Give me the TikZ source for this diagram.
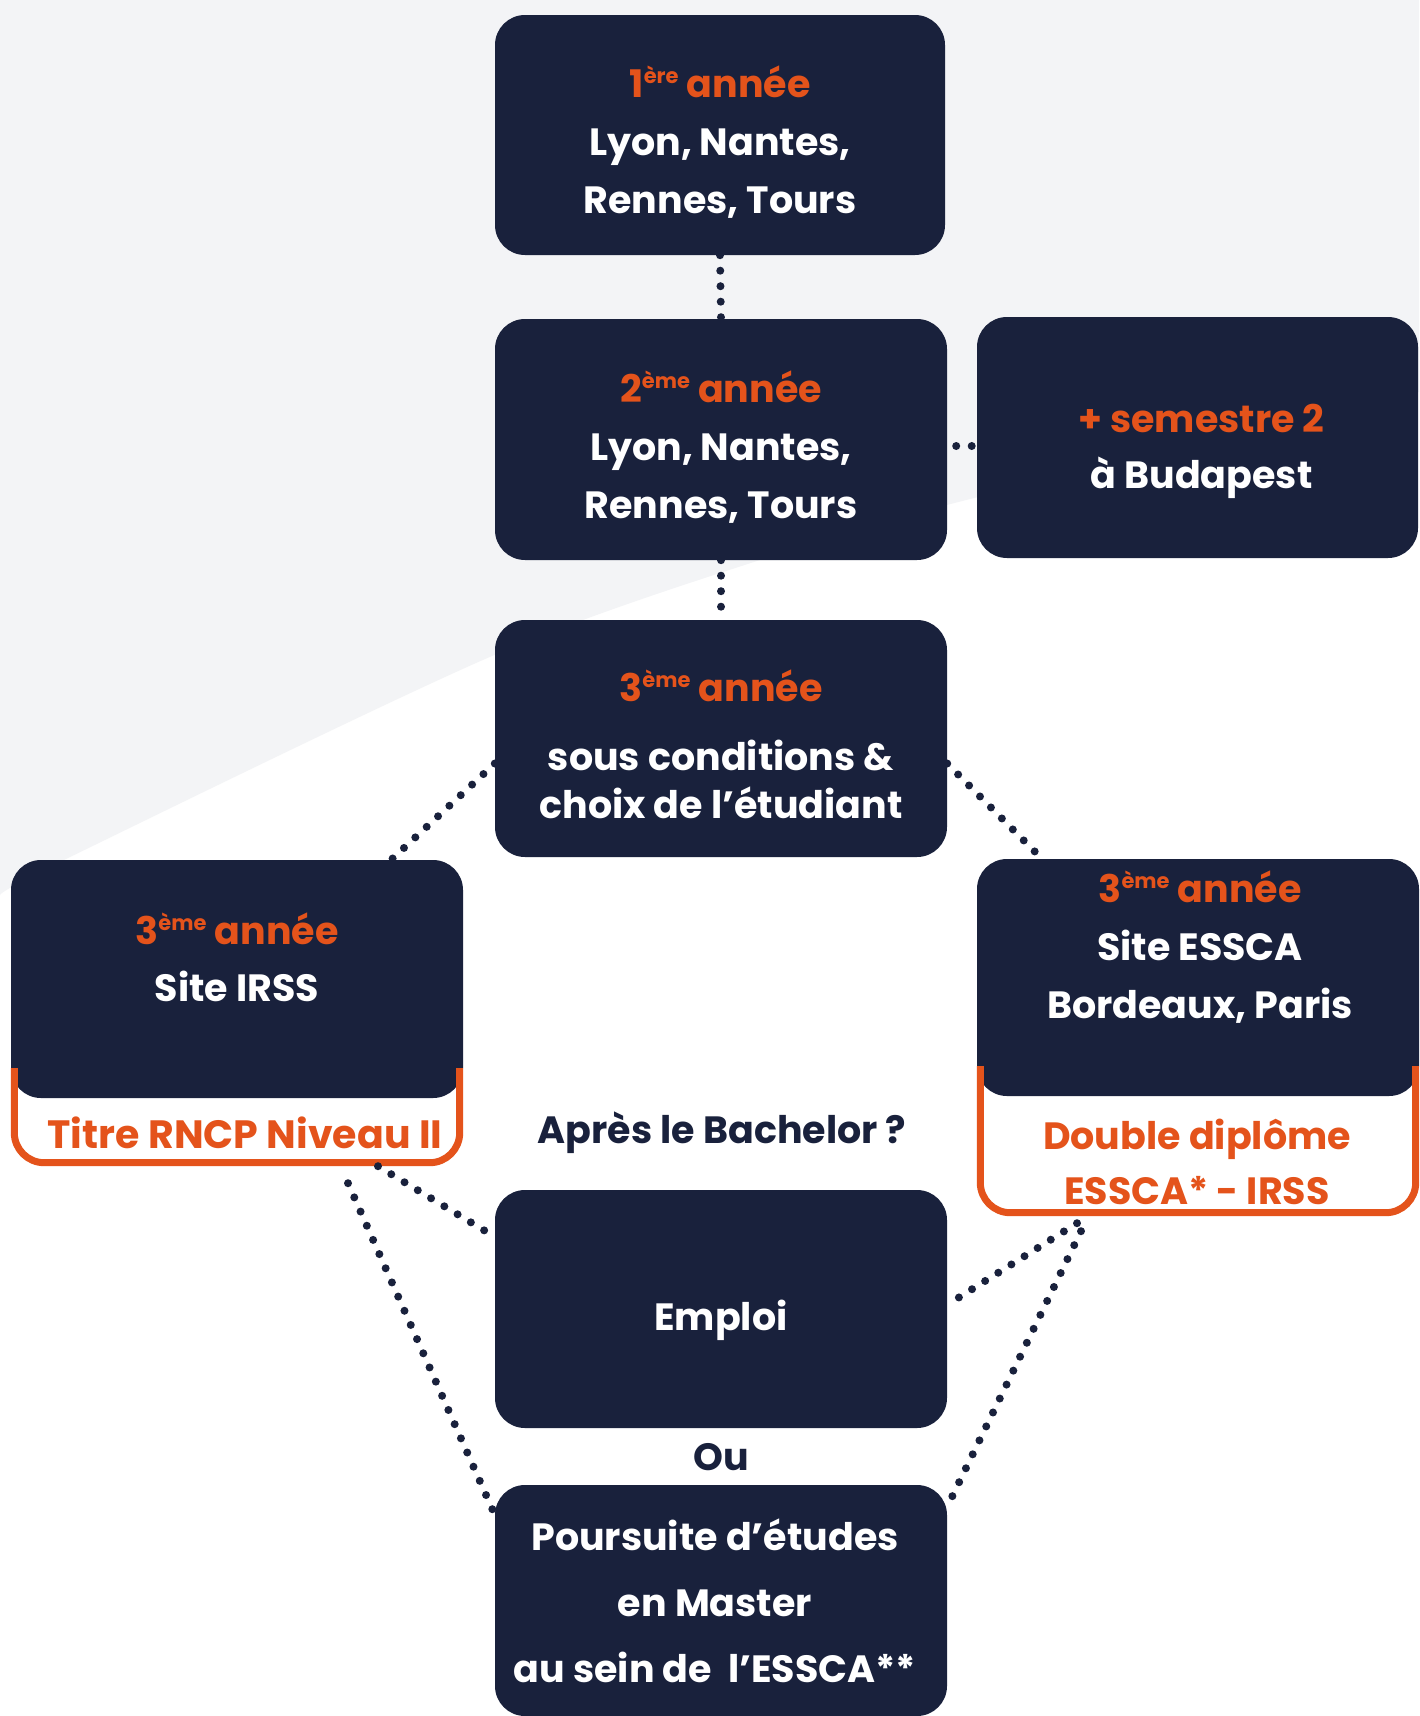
\documentclass[tikz,border=0pt]{standalone}
\usepackage{fontspec}
\setmainfont{Poppins}
\usetikzlibrary{positioning}

\definecolor{navy}{HTML}{19213C}
\definecolor{brand}{HTML}{E4531B}
\definecolor{paper}{HTML}{F3F4F6}

\newcommand\annee[2]{\textcolor{brand}{#1\raisebox{14pt}{\fontsize{21}{21}\selectfont #2} année}}

\tikzset{
	darkbox/.style={fill=navy, rounded corners=30pt, inner sep=0pt, minimum width=452pt, minimum height=238pt},
	boxtext/.style={text=white, align=center, inner sep=0pt, font=\bfseries\fontsize{38}{58}\selectfont},
	brandtext/.style={text=brand, align=center, inner sep=0pt, font=\bfseries\fontsize{38}{55}\selectfont},
	frame/.style={draw=brand, line width=7pt, rounded corners=30pt},
	dots/.style={draw=navy, line width=8pt, line cap=round, dash pattern=on 0pt off 15.5pt}
}

\begin{document}
\begin{tikzpicture}[x=1pt, y=-1pt]
	\useasboundingbox (0,0) rectangle (1419,1716);
	\clip (0,0) rectangle (1419,1716);
	\fill[white] (0,0) rectangle (1419,1716);
	\fill[paper] (0,0) -- (1419,0) -- plot[smooth] coordinates {(1419,392) (974,498) (766,558) (492,656) (66,859) (0,895)} -- cycle;
	
	% the three years
	\node[darkbox, minimum width=450pt, minimum height=240pt] (y1) at (720,135) {};
	\node[boxtext] (y1txt) at ([yshift=-7.5pt]y1.center) {\annee{1}{ère}\\Lyon, Nantes,\\Rennes, Tours};
	\node[darkbox, minimum height=241pt] (y2) at (721,439.5) {};
	\node[boxtext] (y2txt) at ([yshift=-7.5pt]y2.center) {\annee{2}{ème}\\Lyon, Nantes,\\Rennes, Tours};
	\node[darkbox, minimum width=441pt, minimum height=241pt] (buda) at (1197.5,437.5) {};
	\node[boxtext, font=\bfseries\fontsize{38}{56}\selectfont] (budatxt) at ([xshift=4pt,yshift=-14pt]buda.center) {\textcolor{brand}{+ semestre 2}\\à Budapest};
	\node[darkbox, minimum height=237pt] (y3) at (721,738.5) {};
	\node[boxtext, font=\bfseries\fontsize{38}{48}\selectfont] (y3txt) at ([yshift=-6pt]y3.center) {\annee{3}{ème}\\[21pt]sous conditions \&\\choix de l’étudiant};
	
	% third year, IRSS
	\node[darkbox] (irss) at (237,979) {};
	\node[boxtext, font=\bfseries\fontsize{38}{57}\selectfont] (irsstxt) at (237,957.5) {\annee{3}{ème}\\Site IRSS};
	\node[brandtext, minimum height=66pt, font=\bfseries\fontsize{39.5}{55}\selectfont] (rncp) at (245,1133) {Titre RNCP Niveau II};
	\draw[frame] ([xshift=3.5pt,yshift=30pt]irss.south west) |- ([yshift=3.5pt]rncp.south) -| ([xshift=-3.5pt,yshift=30pt]irss.south east);
	
	% third year, ESSCA
	\node[darkbox, minimum width=442pt, minimum height=237pt] (essca) at (1198,977.5) {};
	\node[boxtext] (essctxt) at (1200,947) {\annee{3}{ème}\\Site ESSCA\\Bordeaux, Paris};
	\node[brandtext, minimum height=108pt] (dbl) at (1197,1162) {Double diplôme\\ESSCA* - IRSS};
	\draw[frame] ([xshift=3.5pt,yshift=30pt]essca.south west) |- ([yshift=3.5pt]dbl.south) -| ([xshift=-3.5pt,yshift=30pt]essca.south east);
	
	% after the bachelor
	\node[text=navy, font=\bfseries\fontsize{38}{38}\selectfont] (apres) at (722,1133) {Après le Bachelor ?};
	\node[darkbox] (emploi) at (721,1309) {};
	\node[boxtext] (emptxt) at ([yshift=-11pt]emploi.center) {Emploi};
	\node[text=navy, font=\bfseries\fontsize{38}{38}\selectfont] (ou) at (721,1457) {Ou};
	\node[darkbox, minimum height=231pt] (pours) at (721,1600.5) {};
	\node[boxtext, font=\bfseries\fontsize{38}{66}\selectfont] (pourstxt) at ([xshift=-6pt]pours.center) {Poursuite d’études\\en Master\\au sein de~ l’ESSCA**};
	
	% dotted links
	\draw[dots] (y1.south) -- (y2.north);
	\draw[dots] ([xshift=9pt,yshift=-6.5pt]y2.east) -- ([xshift=-4pt,yshift=-6.5pt]y2.east -| buda.west);
	\draw[dots] (y2.south) -- (y3.north);
	\draw[dots] ([yshift=-25pt]y3.west) -- ([xshift=-72pt]irss.north east);
	\draw[dots] ([yshift=-25pt]y3.east) -- ([xshift=-156pt]essca.north);
	\draw[dots] ([xshift=133pt]rncp.south) -- ([yshift=-47pt]emploi.north west);
	\draw[dots] ([xshift=103pt,yshift=-17pt]rncp.south) -- ([yshift=-30pt]pours.north west);
	\draw[dots] ([xshift=-120pt,yshift=-7pt]dbl.south) -- ([yshift=-115pt]emploi.north east);
	\draw[dots] ([xshift=-116pt,yshift=-15pt]dbl.south) -- ([yshift=-22pt]pours.north east);
\end{tikzpicture}
\end{document}
